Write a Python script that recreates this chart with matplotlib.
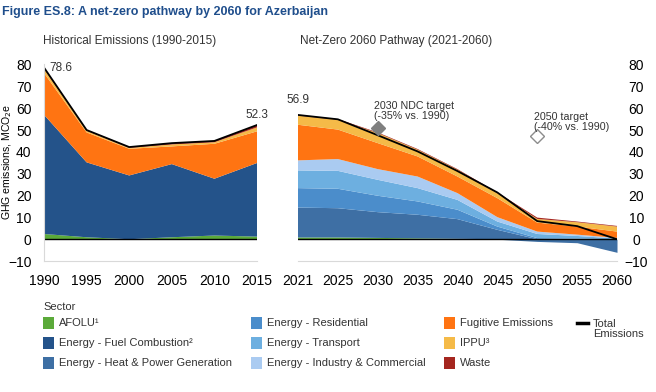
import numpy as np
import matplotlib
matplotlib.use("Agg")
import matplotlib.pyplot as plt
from matplotlib.patches import Rectangle
from matplotlib.lines import Line2D

plt.rcParams['font.family'] = ['Liberation Sans', 'DejaVu Sans']

# Historical emissions (1990-2015), MtCO2e
hist_years = ['1990', '1995', '2000', '2005', '2010', '2015']
hist_afolu = [2.4, 0.9, 0.0, 0.9, 1.7, 1.2]
hist_fuel = [54.6, 34.3, 29.2, 33.5, 26.0, 33.7]
hist_fugitive = [19.1, 13.7, 12.2, 8.1, 16.0, 14.5]
hist_ippu = [1.9, 0.7, 0.4, 0.9, 0.7, 1.8]
hist_waste = [0.6, 0.4, 0.4, 0.6, 0.6, 1.1]
hist_total = [78.6, 50.0, 42.2, 44.0, 45.0, 52.3]

# Net-zero pathway (2021-2060)
nz_years = ['2021', '2025', '2030', '2035', '2040', '2045', '2050', '2055', '2060']
nz_afolu = [0.8, 0.8, 0.6, 0.4, 0.2, 0.0, 0.0, 0.0, 0.0]
nz_heat_power = [13.7, 13.4, 11.8, 10.8, 9.0, 4.3, -1.0, -1.6, -6.0]
nz_residential = [8.9, 8.9, 7.5, 6.1, 4.3, 1.5, 0.5, 0.3, 0.0]
nz_transport = [8.1, 8.2, 7.3, 6.1, 4.5, 2.3, 1.9, 1.2, 0.3]
nz_industry = [4.6, 5.4, 4.9, 5.3, 3.1, 2.0, 1.1, 0.6, 0.3]
nz_fugitive = [16.3, 13.5, 11.9, 9.2, 7.6, 8.7, 4.1, 3.7, 2.9]
nz_ippu = [4.2, 4.5, 4.6, 3.1, 3.1, 2.3, 1.7, 2.0, 2.3]
nz_waste = [0.3, 0.3, 0.3, 0.3, 0.3, 0.3, 0.6, 0.3, 0.3]
nz_total = [56.9, 54.9, 47.6, 40.2, 31.2, 21.4, 8.3, 6.0, 0.0]

ndc_2030 = 51.1
target_2050 = 47.2

c_afolu = '#5BAA3A'
c_fuel = '#24538A'
c_heat = '#3E6FA4'
c_res = '#4B8DCB'
c_trans = '#6DAFE0'
c_ind = '#AACBF1'
c_fug = '#FF7412'
c_ippu = '#F5BA48'
c_waste = '#A5261F'
grey_txt = '#333333'

W, H = 656, 392
fig = plt.figure(figsize=(W / 100, H / 100), dpi=100)
ax1 = fig.add_axes([44 / W, 0.334, 213 / W, 0.5015])
ax2 = fig.add_axes([298 / W, 0.334, 319 / W, 0.5015])

# Left panel
xh = np.arange(len(hist_years))
ax1.stackplot(xh, hist_afolu, hist_fuel, hist_fugitive, hist_ippu, hist_waste,
              colors=[c_afolu, c_fuel, c_fug, c_ippu, c_waste], linewidth=0)
ax1.plot(xh, hist_total, color='black', lw=1.3)
ax1.axhline(0, color='black', lw=1.0)
ax1.text(0.13, hist_total[0], '78.6', fontsize=8.5, color=grey_txt, va='center', ha='left')
ax1.text(xh[-1], hist_total[-1] + 2.0, '52.3', fontsize=8.5, color=grey_txt, ha='center', va='bottom')

# Right panel: positive stack plus negative part of heat & power
xn = np.arange(len(nz_years))
hp = np.array(nz_heat_power)
layers = [nz_afolu, np.clip(hp, 0, None), nz_residential, nz_transport, nz_industry,
          nz_fugitive, nz_ippu, nz_waste]
ax2.stackplot(xn, *layers, colors=[c_afolu, c_heat, c_res, c_trans, c_ind, c_fug, c_ippu, c_waste],
              linewidth=0)
ax2.fill_between(xn, 0, np.clip(hp, None, 0), color=c_heat, linewidth=0)
ax2.plot(xn, nz_total, color='black', lw=1.3)
ax2.axhline(0, color='black', lw=1.0)
ax2.text(xn[0], nz_total[0] + 4.2, '56.9', fontsize=8.5, color=grey_txt, ha='center', va='bottom')

ax2.plot(2, ndc_2030, marker='D', ms=7, color='#7F7F7F', mec='#7F7F7F', clip_on=False)
ax2.plot(6, target_2050, marker='D', ms=7, color='white', mec='#8C8C8C', mew=1.0, clip_on=False)
ax2.text(1.9, 58.6, '2030 NDC target\n(-35% vs. 1990)', fontsize=7.7, color=grey_txt,
         ha='left', va='center', linespacing=1.05)
ax2.text(5.92, 53.8, '2050 target\n(-40% vs. 1990)', fontsize=7.7, color=grey_txt,
         ha='left', va='center', linespacing=1.05)

for ax, labels in [(ax1, hist_years), (ax2, nz_years)]:
    ax.set_xlim(0, len(labels) - 1)
    ax.set_ylim(-10, 80)
    ax.set_xticks(np.arange(len(labels)))
    ax.set_xticklabels(labels, fontsize=10, color='black')
    ax.set_yticks(range(-10, 81, 10))
    for s in ['top', 'right', 'left']:
        ax.spines[s].set_visible(False)
    ax.spines['bottom'].set_color('#D9D9D9')
    ax.tick_params(axis='x', length=0, pad=9)
    ax.tick_params(axis='y', length=0, labelsize=10)

ax1.spines['left'].set_visible(True)
ax1.spines['left'].set_color('#D9D9D9')
ax1.tick_params(axis='y', pad=9)
ax1.set_ylabel('GHG emissions, MCO$_2$e', fontsize=7.6)
ax1.yaxis.set_label_coords(-30 / 213, 0.505)

ax2.yaxis.tick_right()
ax2.tick_params(axis='y', labelleft=False, labelright=True, pad=14)
for lab in ax2.get_yticklabels():
    lab.set_horizontalalignment('center')

fig.text(2 / W, 1 - 12 / H, 'Figure ES.8: A net-zero pathway by 2060 for Azerbaijan',
         fontsize=9, fontweight='bold', color='#1F4E8C', va='center')
fig.text(43 / W, 1 - 41 / H, 'Historical Emissions (1990-2015)', fontsize=8.5, color=grey_txt, va='center')
fig.text(300 / W, 1 - 41 / H, 'Net-Zero 2060 Pathway (2021-2060)', fontsize=8.5, color=grey_txt, va='center')

# Legend, drawn by hand so the rows stay evenly spaced
fig.text(43 / W, 1 - 307 / H, 'Sector', fontsize=8, color=grey_txt, va='center')
legend_cols = [
    (43, [(c_afolu, 'AFOLU\u00b9'), (c_fuel, 'Energy - Fuel Combustion\u00b2'),
          (c_heat, 'Energy - Heat & Power Generation')]),
    (251, [(c_res, 'Energy - Residential'), (c_trans, 'Energy - Transport'),
           (c_ind, 'Energy - Industry & Commercial')]),
    (444, [(c_fug, 'Fugitive Emissions'), (c_ippu, 'IPPU\u00b3'), (c_waste, 'Waste')]),
]
row_y = [323, 343, 363]
for x0, items in legend_cols:
    for (c, label), y in zip(items, row_y):
        fig.patches.append(Rectangle((x0 / W, 1 - (y + 6) / H), 11 / W, 12 / H,
                                     facecolor=c, edgecolor='none', transform=fig.transFigure))
        fig.text((x0 + 16) / W, 1 - y / H, label, fontsize=8, color=grey_txt, va='center')
fig.lines.append(Line2D([577 / W, 588 / W], [1 - 323 / H, 1 - 323 / H], color='black', lw=2.5,
                        transform=fig.transFigure))
fig.text(593 / W, 1 - 329 / H, 'Total\nEmissions', fontsize=8, color=grey_txt, va='center',
         linespacing=1.0)

fig.savefig('out.png', dpi=100)
